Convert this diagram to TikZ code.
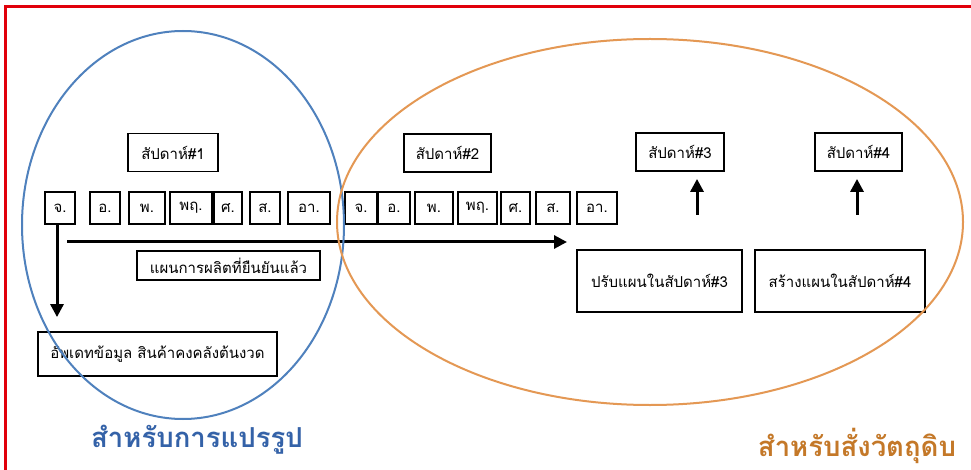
\documentclass[tikz,border=0pt]{standalone}
\usepackage{fontspec}
\setmainfont{Liberation Sans}
\newfontfamily\thai[Script=Thai]{Loma}
\usetikzlibrary{arrows.meta}
\definecolor{bluering}{RGB}{79,129,189}
\definecolor{orangering}{RGB}{228,152,84}
\definecolor{bluetitle}{RGB}{52,98,168}
\definecolor{orangetitle}{RGB}{196,120,40}
\definecolor{frame}{RGB}{225,0,10}
\tikzset{
  box/.style={draw=black, line width=1.8pt, inner sep=0pt, font=\thai\fontsize{15}{17}\selectfont},
  daybox/.style={box, minimum height=32pt},
  weekbox/.style={box, minimum height=38pt},
  arr/.style={line width=3pt, -{Triangle[length=13pt,width=13pt]}},
  ring/.style={line width=2pt},
  title/.style={font=\thai\bfseries\fontsize{27.5}{31}\selectfont}
}
\begin{document}
\begin{tikzpicture}[x=1pt,y=-1pt]
\useasboundingbox (0,0) rectangle (971,470);
\fill[white] (0,0) rectangle (971,470);
% red frame
\draw[frame, line width=3pt] (971,7) -- (5,7) -- (5,470);

% week boxes
\node[weekbox, minimum width=90pt] (w1) at (173,152.5) {สัปดาห์\#1};
\node[weekbox, minimum width=87pt] (w2) at (447.5,153) {สัปดาห์\#2};
\node[weekbox, minimum width=88pt] (w3) at (680,152) {สัปดาห์\#3};
\node[weekbox, minimum width=87pt] (w4) at (858.5,152) {สัปดาห์\#4};

% day boxes week 1
\node[daybox, minimum width=30pt] (d1a) at (60,208) {จ.};
\node[daybox, minimum width=30pt] (d1b) at (105,208) {อ.};
\node[daybox, minimum width=36pt] (d1c) at (147,208) {พ.};
\node[daybox, minimum width=42pt] (d1d) at (191,208) {พฤ.};
\node[daybox, minimum width=28pt] (d1e) at (228,208) {ศ.};
\node[daybox, minimum width=30pt] (d1f) at (265,208) {ส.};
\node[daybox, minimum width=42pt] (d1g) at (309,208) {อา.};
% day boxes week 2
\node[daybox, minimum width=32pt] (d2a) at (361,208) {จ.};
\node[daybox, minimum width=32pt] (d2b) at (394,208) {อ.};
\node[daybox, minimum width=38pt] (d2c) at (434,208) {พ.};
\node[daybox, minimum width=39pt] (d2d) at (477.5,208) {พฤ.};
\node[daybox, minimum width=29pt] (d2e) at (515.5,208) {ศ.};
\node[daybox, minimum width=34pt] (d2f) at (553,208) {ส.};
\node[daybox, minimum width=40pt] (d2g) at (597,208) {อา.};

% other boxes
\node[box, minimum width=183pt, minimum height=29pt] (plan) at (228.5,265.5) {แผนการผลิตที่ยืนยันแล้ว};
\node[box, minimum width=239pt, minimum height=44pt] (upd) at (157.5,354) {อัพเดทข้อมูล สินค้าคงคลังต้นงวด};
\node[box, minimum width=165pt, minimum height=62pt] (adj) at (659.5,281) {ปรับแผนในสัปดาห์\#3};
\node[box, minimum width=170pt, minimum height=62pt] (new) at (840,281) {สร้างแผนในสัปดาห์\#4};

% arrows
\draw[arr, shorten >=14pt] ([xshift=-3pt]d1a.south) -- ([xshift=-3pt]d1a.south |- upd.north);
\coordinate (h0) at (67,242);
\coordinate (h1) at (567,242);
\draw[arr] (h0) -- (h1);
\coordinate (a3) at (697,215);
\coordinate (a4) at (857,215);
\draw[arr, shorten >=7pt] (a3) -- (a3 |- w3.south);
\draw[arr, shorten >=7pt] (a4) -- (a4 |- w4.south);

% rings
\draw[ring, bluering] (183,225) ellipse [x radius=161, y radius=194];
\draw[ring, orangering] (650,222) ellipse [x radius=313, y radius=183];

% titles
\node[title, text=bluetitle] (t1) at (197,440) {สำหรับการแปรรูป};
\node[title, text=orangetitle] (t2) at (857,446) {สำหรับสั่งวัตถุดิบ};
\end{tikzpicture}
\end{document}
